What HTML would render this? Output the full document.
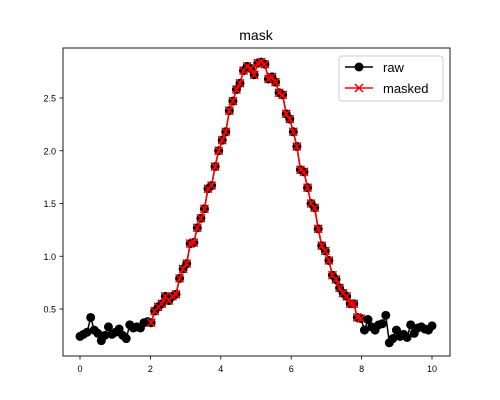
<!DOCTYPE html>
<html><head><meta charset="utf-8"><style>
body{margin:0;background:#fff}
svg{display:block;font-family:"Liberation Sans","DejaVu Sans",sans-serif}
</style></head><body>
<svg id="c" width="500" height="400">
<rect width="500" height="400" fill="#fff"/>
<text x="256" y="40" font-size="14" text-anchor="middle">mask</text>
<g id="plot"></g>
<rect x="63" y="48" width="387" height="308" fill="none" stroke="#000" stroke-width="0.9"/>
<g>
<rect x="339" y="56" width="104" height="45" fill="#fff" stroke="#ccc" rx="3"/>
<line x1="345" y1="67" x2="373" y2="67" stroke="#000" stroke-width="1.5"/>
<circle cx="359" cy="67" r="4.5" fill="#000"/>
<text x="383" y="72" font-size="13">raw</text>
<line x1="345" y1="88" x2="373" y2="88" stroke="red" stroke-width="1.5"/>
<path d="M355,84 l8,8 M363,84 l-8,8" stroke="red" stroke-width="1.5"/>
<text x="383" y="93" font-size="13">masked</text>
</g>
</svg>
<script>
const raw=[0.24,0.26,0.28,0.42,0.30,0.27,0.20,0.25,0.33,0.26,0.28,0.31,0.25,0.22,0.35,0.32,0.33,0.32,0.37,0.38,
0.37,0.48,0.52,0.55,0.62,0.58,0.62,0.64,0.79,0.88,0.93,1.12,1.13,1.27,1.36,1.45,1.64,1.67,1.85,2.00,
2.10,2.18,2.38,2.47,2.58,2.64,2.76,2.80,2.78,2.72,2.83,2.84,2.82,2.68,2.70,2.65,2.55,2.53,2.35,2.30,
2.18,2.04,1.82,1.80,1.65,1.50,1.46,1.26,1.10,1.05,0.96,0.82,0.78,0.70,0.65,0.62,0.55,0.55,0.42,0.41,
0.30,0.40,0.33,0.30,0.35,0.36,0.44,0.18,0.22,0.30,0.24,0.26,0.23,0.35,0.27,0.32,0.33,0.31,0.30,0.34,0.38].slice(0,100);
const maskStart=20, maskEnd=79;
const xTicks=[0,2,4,6,8,10];
const yTicks=[0.5,1.0,1.5,2.0,2.5];
const n=raw.length;
const xs=raw.map((v,i)=>i*10/(n-1));
const X=v=>80+v*35.2, Y=v=>361.75-v*105.5;
const NS="http://www.w3.org/2000/svg", g=document.getElementById('plot');
function el(t,a){const e=document.createElementNS(NS,t);for(const k in a)e.setAttribute(k,a[k]);g.appendChild(e);return e;}
xTicks.forEach(t=>{
 const l=el('line',{x1:X(t),x2:X(t),y1:356,y2:359.5,stroke:'#000','stroke-width':0.8});
 
 
 const s=el('text',{x:X(t),y:372,'font-size':9,'text-anchor':'middle'});s.textContent=t;
 
 
});
yTicks.forEach(t=>{
 const l=el('line',{x1:59.5,x2:63,y1:Y(t),y2:Y(t),stroke:'#000','stroke-width':0.8});
 
 
 const s=el('text',{x:56,y:Y(t)+3.5,'font-size':9,'text-anchor':'end'});s.textContent=t.toFixed(1);
 
 
});
const rp=el('polyline',{points:raw.map((v,i)=>X(xs[i])+','+Y(v)).join(' '),fill:'none',stroke:'#000','stroke-width':1.5});


raw.forEach((v,i)=>{const c=el('circle',{cx:X(xs[i]),cy:Y(v),r:4.5,fill:'#000'});
 
 });
const mi=[];for(let i=maskStart;i<=maskEnd;i++)mi.push(i);
const mp=el('polyline',{points:mi.map(i=>X(xs[i])+','+Y(raw[i])).join(' '),fill:'none',stroke:'red','stroke-width':1.5});


mi.forEach(i=>{const x=X(xs[i]),y=Y(raw[i]);
 const p=el('path',{d:`M${x-4},${y-4}L${x+4},${y+4}M${x+4},${y-4}L${x-4},${y+4}`,stroke:'red','stroke-width':1.5});
 
 });
</script>
</body></html>
